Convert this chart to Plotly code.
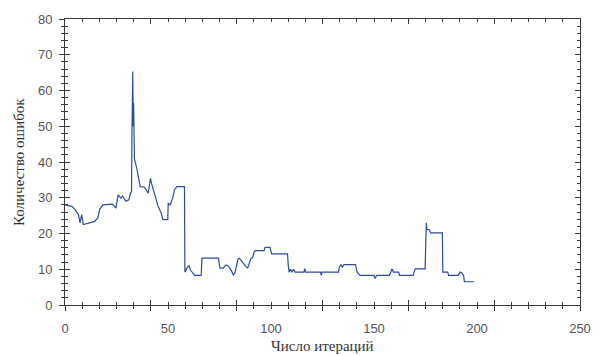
import plotly.graph_objects as go

# Vertices of the error curve (iteration, number of errors)
iterations = [0, 3.3, 4.9, 6.5, 7.3, 8.1, 8.9, 11, 14.4, 16, 16.8, 18.4, 23.1, 24.7, 25.8, 27.1, 28, 29.5, 31,
              31.8, 32.3, 32.5, 32.9, 33.1, 33.3, 33.7, 34.9, 36.5, 38.5, 40.4, 41.5, 42, 43.6, 45.2, 46.7,
              47.5, 49.9, 50.1, 51, 52.3, 53.1, 54.3, 58.0, 58.2, 59.4, 60.2, 61, 62.9, 66.1, 66.5, 74.5,
              75.2, 76.8, 78.1, 79, 80.3, 81.8, 82.5, 84, 84.6, 85.5, 86.6, 88, 88.7, 89.5, 90.3, 91, 91.9,
              92.5, 96.6, 97.1, 99.5, 100.3, 108, 108.4, 108.8, 109.5, 110.2, 111, 111.7, 116, 116.4, 116.8,
              124, 124.4, 124.8, 132.8, 133.2, 133.9, 134.6, 135.5, 141, 141.8, 143.2, 150, 150.5, 151.3,
              157.5, 158.2, 158.7, 159.5, 162, 162.4, 169, 169.5, 170, 174.8, 175.1, 175.4, 175.7, 176.7,
              177.5, 183.2, 183.4, 185.8, 186.2, 191, 191.8, 192.6, 193.5, 193.9, 198.5]
errors = [28, 27.6, 26.7, 25.3, 23, 25.3, 22.5, 22.8, 23.4, 24.4, 26.7, 28, 28.2, 27.1, 30.8, 29.9, 30.5, 29, 29.4,
          31.3, 31.7, 47.4, 65.3, 50, 56.6, 40.9, 38.1, 33.1, 33, 31.3, 35.4, 34, 30.8, 27.6, 25.7,
          23.9, 23.9, 28.5, 28, 29.9, 32.2, 33.1, 33.1, 9.2, 10.5, 11, 9.7, 8.3, 8.3, 13.1, 13.1,
          10.3, 10.3, 11.2, 11, 10.1, 8.4, 9, 12.9, 13.1, 12.5, 11.5, 10.6, 10.4, 12, 13.1, 13.2, 15,
          15.2, 15.2, 16.1, 16.1, 14.3, 14.3, 11, 9.2, 10, 9.2, 10, 9.2, 9.2, 10.2, 9.2,
          9.2, 8.3, 9.2, 9.2, 10.6, 11.3, 10.6, 11.3, 11.3, 9.2, 8.3, 8.3, 7.4, 8.3,
          8.3, 9.2, 10.1, 9.2, 9.2, 8.3, 8.3, 9.2, 10.1, 10.1, 16.6, 23, 21.1, 21.1,
          20.2, 20.2, 9.2, 9.2, 8.3, 8.3, 9.2, 9, 8.2, 6.5, 6.5]

# Tick labels (x labels do not coincide with the x tick marks in the original chart)
x_labels = [0, 50, 100, 150, 200, 250]
x_tick_marks = [0, 250 / 6, 500 / 6, 125, 1000 / 6, 1250 / 6, 250]
y_ticks = [0, 10, 20, 30, 40, 50, 60, 70, 80]
x_title = "Число итераций"
y_title = "Количество ошибок"

axis_col = "#3a3a3a"
tick_font = dict(family="Liberation Sans, Arial", size=13, color="#555555")

fig = go.Figure()
fig.add_trace(go.Scatter(x=iterations, y=errors, mode="lines",
                         line=dict(color="#2e4b9e", width=1.2), showlegend=False, hoverinfo="skip"))
# dummy traces on overlay axes (labels / inside mirrored ticks)
fig.add_trace(go.Scatter(x=[None], y=[None], xaxis="x2", yaxis="y2", showlegend=False, hoverinfo="skip"))
fig.add_trace(go.Scatter(x=[None], y=[None], xaxis="x3", yaxis="y2", showlegend=False, hoverinfo="skip"))

common = dict(showgrid=False, zeroline=False, linecolor=axis_col, linewidth=1, tickcolor=axis_col, tickwidth=1)

fig.update_layout(
    width=603, height=356,
    margin=dict(l=65, r=12, t=15, b=51),
    paper_bgcolor="white", plot_bgcolor="white",
    # bottom outside tick marks
    xaxis=dict(range=[0, 250], tickvals=x_tick_marks, showticklabels=False,
               ticks="outside", ticklen=5, showline=True, mirror=False,
               minor=dict(ticks="outside", dtick=250 / 30, tick0=0, ticklen=3, tickcolor=axis_col), **common),
    # bottom labels
    xaxis2=dict(range=[0, 250], overlaying="x", side="bottom", tickvals=x_labels,
                ticktext=[str(v) for v in x_labels], ticks="", showline=False,
                tickfont=tick_font, ticklabelstandoff=14, showgrid=False, zeroline=False),
    # inside tick marks, mirrored at top
    xaxis3=dict(range=[0, 250], overlaying="x", side="bottom", tickvals=x_tick_marks,
                ticks="inside", ticklen=5, showline=True, mirror="ticks", showticklabels=False,
                minor=dict(ticks="inside", dtick=250 / 30, tick0=0, ticklen=3, tickcolor=axis_col), **common),
    yaxis=dict(range=[0, 80], tickvals=y_ticks, ticktext=[str(v) for v in y_ticks],
               ticks="outside", ticklen=5, showline=True, mirror=False,
               minor=dict(ticks="outside", dtick=2, ticklen=3, tickcolor=axis_col),
               tickfont=tick_font, ticklabelstandoff=4, **common),
    yaxis2=dict(range=[0, 80], overlaying="y", side="left", tickvals=y_ticks,
                ticks="inside", ticklen=5, showline=True, mirror="ticks", showticklabels=False,
                minor=dict(ticks="inside", dtick=2, ticklen=3, tickcolor=axis_col), **common),
    annotations=[
        dict(text=x_title, xref="paper", yref="paper", x=0.5, y=(305 - 347) / 290,
             xanchor="center", yanchor="middle", showarrow=False,
             font=dict(family="Liberation Serif, Times New Roman", size=15, color="#333333")),
        dict(text=y_title, xref="paper", yref="paper", x=(18 - 65) / 526, y=0.5,
             xanchor="center", yanchor="middle", showarrow=False, textangle=-90,
             font=dict(family="Liberation Serif, Times New Roman", size=15, color="#333333")),
    ],
)

fig.write_html("out.html", config={"displayModeBar": False},
               post_script="document.body.style.margin='0';document.body.style.overflow='hidden';")
